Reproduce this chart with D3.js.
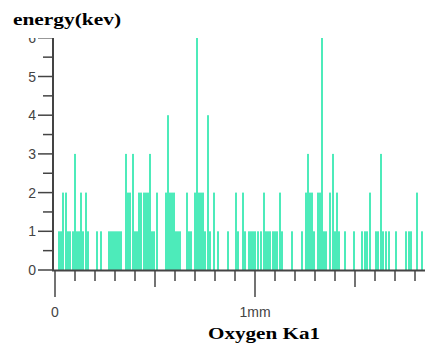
<!DOCTYPE html>
<html>
<head>
<meta charset="utf-8">
<script src="https://cdn.jsdelivr.net/npm/d3@7"></script>
<style>
  html, body { margin: 0; padding: 0; background: #fff; }
  svg { display: block; }
</style>
</head>
<body>
<div id="chart"></div>
<script>
// line scan position (mm) and counts
const positions = [0.02, 0.03, 0.04, 0.055, 0.065, 0.075, 0.09, 0.10, 0.11, 0.12, 0.13, 0.14, 0.155, 0.165,
  0.21, 0.23, 0.27, 0.28, 0.29, 0.30, 0.31, 0.32, 0.33, 0.355, 0.365, 0.375, 0.39, 0.40, 0.41, 0.42, 0.43,
  0.445, 0.455, 0.465, 0.475, 0.485, 0.495, 0.51, 0.555, 0.565, 0.575, 0.585, 0.595, 0.605, 0.615, 0.625,
  0.66, 0.67, 0.68, 0.70, 0.71, 0.72, 0.73, 0.74, 0.75, 0.765, 0.775, 0.795, 0.815, 0.865, 0.905, 0.915,
  0.94, 0.95, 0.97, 0.98, 0.99, 1.00, 1.015, 1.03, 1.045, 1.055, 1.065, 1.075, 1.09, 1.10, 1.11, 1.125,
  1.135, 1.185, 1.235, 1.255, 1.265, 1.275, 1.285, 1.295, 1.315, 1.325, 1.335, 1.345, 1.355, 1.375, 1.39,
  1.40, 1.41, 1.42, 1.45, 1.495, 1.535, 1.55, 1.56, 1.575, 1.605, 1.615, 1.63, 1.64, 1.655, 1.67, 1.705,
  1.755, 1.77, 1.78, 1.81, 1.835];
const counts = [1, 1, 2, 2, 1, 1, 1, 3, 1, 1, 2, 1, 2, 1,
  1, 1, 1, 1, 1, 1, 1, 1, 1, 3, 2, 2, 3, 1, 1, 2, 2,
  2, 2, 2, 3, 1, 1, 2, 2, 4, 2, 2, 2, 1, 1, 1,
  2, 1, 1, 2, 6, 2, 2, 2, 1, 4, 1, 2, 1, 1, 2, 1,
  2, 1, 1, 1, 1, 1, 1, 1, 2, 1, 1, 1, 1, 1, 1, 2,
  1, 1, 1, 2, 3, 2, 2, 1, 2, 2, 6, 1, 1, 2, 3,
  1, 2, 1, 1, 1, 1, 1, 1, 2, 1, 1, 3, 1, 1, 1, 1,
  1, 1, 1, 2, 1];

const yTicks = [0, 1, 2, 3, 4, 5, 6];
const xLabels = [{ v: 0, t: "0" }, { v: 1, t: "1mm" }];
const yTitle = "energy(kev)";
const xTitle = "Oxygen Ka1";

const W = 425, H = 343;
const x = d3.scaleLinear().domain([0, 1]).range([55, 255]);
const y = d3.scaleLinear().domain([0, 6]).range([270, 37.8]);

const svg = d3.select("#chart").append("svg")
  .attr("width", W).attr("height", H)
  .style("font-family", "'Liberation Sans', Arial, sans-serif");

svg.append("defs").append("clipPath").attr("id", "clip")
  .append("rect").attr("x", 0).attr("y", 38).attr("width", W).attr("height", H - 38);

const plot = svg.append("g").attr("clip-path", "url(#clip)");

// bars
plot.append("g")
  .selectAll("rect")
  .data(positions.map((p, i) => ({ p, c: counts[i] })))
  .join("rect")
  .attr("x", d => x(d.p) - 0.8)
  .attr("width", 1.6)
  .attr("y", d => y(d.c))
  .attr("height", d => y(0) - y(d.c))
  .attr("fill", "#22e6aa");

// y axis
const yMinor = d3.range(0, 6.01, 0.5);
plot.append("g").selectAll("line").data(yMinor).join("line")
  .attr("x1", d => Number.isInteger(d) ? 38 : 43).attr("x2", 53)
  .attr("y1", d => y(d)).attr("y2", d => y(d))
  .attr("stroke", "#444").attr("stroke-width", 1.5);
plot.append("line").attr("x1", 53).attr("x2", 53).attr("y1", 38).attr("y2", 271)
  .attr("stroke", "#444").attr("stroke-width", 2);
plot.append("g").selectAll("text").data(yTicks).join("text")
  .attr("x", 36).attr("y", d => y(d)).attr("dy", "0.36em")
  .attr("text-anchor", "end").attr("font-size", 14).attr("fill", "#444")
  .text(d => d);

// x axis
const xMinor = d3.range(0, 1.85, 0.1).map(v => Math.round(v * 10) / 10);
svg.append("g").selectAll("line").data(xMinor).join("line")
  .attr("x1", d => x(d)).attr("x2", d => x(d))
  .attr("y1", 270)
  .attr("y2", d => (d === 0 || d === 1) ? 297 : (d === 0.5 || d === 1.5) ? 287 : 281)
  .attr("stroke", "#444").attr("stroke-width", 1.5);
svg.append("line").attr("x1", 52).attr("x2", W).attr("y1", 270.5).attr("y2", 270.5)
  .attr("stroke", "#444").attr("stroke-width", 2);
svg.append("g").selectAll("text").data(xLabels).join("text")
  .attr("x", d => x(d.v)).attr("y", 317)
  .attr("text-anchor", "middle").attr("font-size", 14).attr("fill", "#444")
  .text(d => d.t);

// titles
svg.append("text").attr("x", 13).attr("y", 25)
  .attr("font-family", "'Liberation Serif', 'Times New Roman', serif")
  .attr("font-weight", "bold").attr("font-size", 16)
  .attr("textLength", 108).attr("lengthAdjust", "spacingAndGlyphs")
  .attr("fill", "#000").text(yTitle);
svg.append("text").attr("x", 208).attr("y", 339)
  .attr("font-family", "'Liberation Serif', 'Times New Roman', serif")
  .attr("font-weight", "bold").attr("font-size", 16)
  .attr("textLength", 112).attr("lengthAdjust", "spacingAndGlyphs")
  .attr("fill", "#000").text(xTitle);
</script>
</body>
</html>
